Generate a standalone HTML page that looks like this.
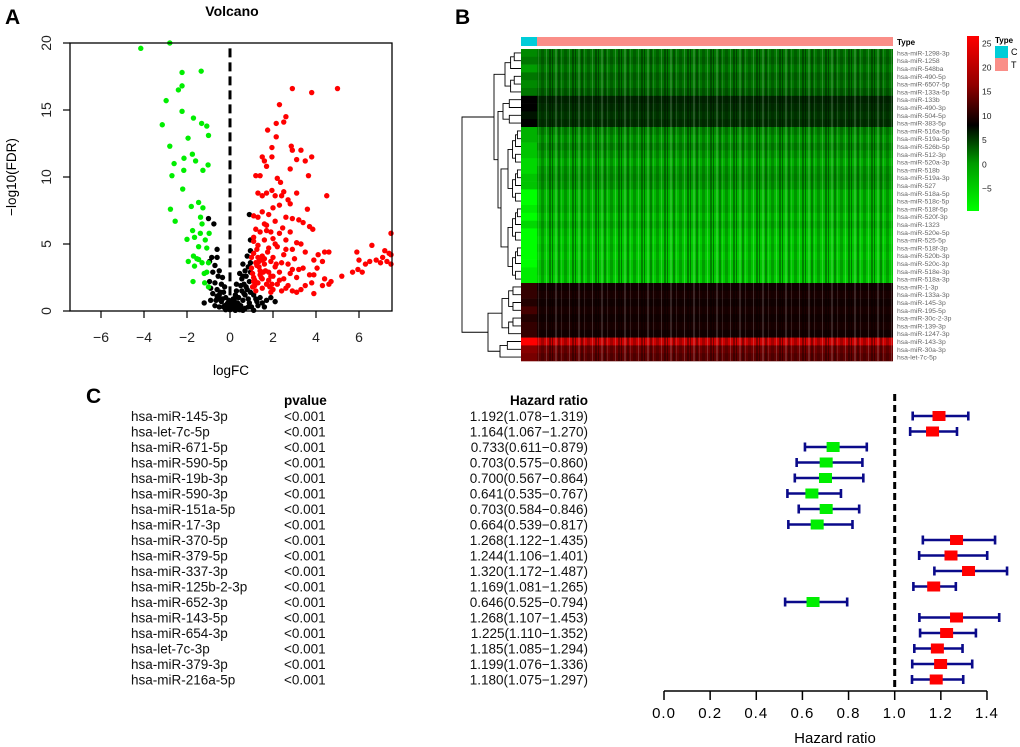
<!DOCTYPE html>
<html><head><meta charset="utf-8"><style>
html,body{margin:0;padding:0;background:#fff;}
svg{display:block;font-family:"Liberation Sans",Arial,sans-serif;}
</style></head><body>
<svg id="fig" width="1020" height="747" viewBox="0 0 1020 747">
<defs>
<pattern id="stripes" width="23" height="8" patternUnits="userSpaceOnUse">
<rect x="0" y="0" width="1" height="8" fill="#000" opacity="0.4"/>
<rect x="3" y="0" width="2" height="8" fill="#fff" opacity="0.15"/>
<rect x="6" y="0" width="2" height="8" fill="#000" opacity="0.3"/>
<rect x="9" y="0" width="1" height="8" fill="#fff" opacity="0.12"/>
<rect x="12" y="0" width="3" height="8" fill="#000" opacity="0.2"/>
<rect x="17" y="0" width="1" height="8" fill="#fff" opacity="0.18"/>
<rect x="20" y="0" width="2" height="8" fill="#000" opacity="0.35"/>
</pattern>
</defs>
<text x="5" y="24" font-size="21" font-weight="bold">A</text>
<text x="455" y="24" font-size="21" font-weight="bold">B</text>
<text x="86" y="403" font-size="21" font-weight="bold">C</text>
<g id="volcano"></g>
<g id="heat"></g>
<g id="forest"></g>
</svg>
<script>
// ---------- Volcano data ----------
const greenFC=[-4.15,-2.8,-1.34,-2.23,-2.23,-2.4,-2.97,-2.23,-3.15,-1.7,-1.32,-1.08,-1.0,-1.95,-2.8,-2.14,-1.75,-1.6,-2.6,-1.02,-2.15,-1.26,-2.7,-2.2,-2.77,-1.46,-1.8,-1.26,-2.55,-1.37,-1.3,-1.74,-2.0,-1.65,-1.38,-1.15,-1.46,-1.08,-1.7,-1.94,-1.54,-1.3,-1.0,-1.65,-1.2,-1.72,-1.18,-1.0,-1.46,-0.97,-1.08];
const greenFDR=[19.6,20,17.9,17.8,16.8,16.5,15.7,14.9,13.9,14.4,14.0,13.8,13.1,12.9,12.3,11.4,11.7,11.2,11.0,10.9,10.5,10.5,10.1,9.1,7.6,8.1,7.8,7.7,6.7,7.0,6.5,6.0,5.35,5.5,5.8,5.3,4.8,4.7,4.1,3.7,3.9,3.6,3.6,3.35,2.8,2.2,2.1,1.8,3.85,5.8,2.9];
const redFC=[2.9,3.8,5.0,2.3,2.6,2.5,2.15,1.75,2.15,2.85,2.9,3.3,1.95,3.8,1.5,1.95,1.6,3.1,3.5,1.7,2.8,1.2,1.4,3.65,2.2,2.35,1.95,2.5,2.4,3.1,4.5,1.3,1.7,1.5,2.1,2.7,2.3,2.0,2.8,3.6,1.1,1.5,1.3,1.8,2.6,2.9,3.2,1.6,2.1,3.4,3.7,3.85,1.2,1.4,1.9,2.3,2.8,1.1,1.6,2.0,2.6,3.1,3.3,1.3,1.8,2.2,2.9,3.5,4.4,4.6,4.1,5.9,6.6,7.2,7.5,7.4,1.1,1.5,2.0,2.5,3.0,3.9,4.3,6.0,6.3,6.5,6.8,7.0,7.1,7.3,7.5,7.5,1.2,1.6,2.1,2.7,3.2,3.4,4.05,1.0,1.4,1.8,2.3,2.8,3.7,3.9,5.2,5.7,5.95,6.15,1.1,1.5,2.0,2.5,3.1,4.4,4.7,1.3,1.7,2.2,2.7,3.8,4.6,1.05,1.5,2.0,2.6,2.9,3.3,3.9,4.3,1.2,1.9,3.1,2.4,1.4,1.6,1.9,2.4,1.25,1.7,2.45,2.1,1.35,1.1,1.8,2.3,1.0,1.15,2.9,3.5,2.6,1.05,1.25,1.45,1.65,1.85,1.15,1.35,1.55,1.75,1.95,2.15,1.1,1.3,1.5,1.7,1.9];
const redFDR=[16.6,16.3,16.6,15.4,14.5,14.1,14.0,13.5,13.0,12.3,12.0,12.0,12.2,11.5,11.5,11.5,11.2,11.3,11.2,10.8,10.6,10.1,10.1,10.1,9.9,9.6,9.0,8.9,8.6,8.8,8.6,8.8,8.8,8.6,8.6,8.3,7.9,7.7,8.0,7.6,7.1,7.4,7.0,7.2,7.0,6.9,6.8,6.5,6.7,6.6,6.3,6.1,6.1,5.9,5.9,5.8,5.9,5.5,5.3,5.4,5.3,5.1,5.0,4.9,4.7,4.8,4.6,4.4,4.4,4.4,4.2,4.4,4.9,4.5,5.8,4.3,4.3,4.1,4.0,4.2,3.9,3.8,3.7,3.8,3.5,3.7,3.8,3.6,4.0,3.7,3.5,4.2,3.6,3.5,3.3,3.5,3.1,3.2,3.2,3.2,3.0,2.9,2.9,2.8,2.7,2.7,2.6,2.9,3.1,2.9,2.5,2.4,2.6,2.4,2.5,2.4,2.2,2.1,2.0,2.0,1.9,2.1,2.0,1.8,1.7,1.6,1.7,1.5,1.6,1.3,1.9,1.5,1.4,1.4,1.5,2.7,3.9,3.7,3.6,4.6,6.0,6.2,5.0,3.3,2.2,2.3,2.3,4.0,1.9,3.1,1.9,4.6,2.8,3.4,2.5,3.0,1.8,2.3,3.7,2.9,4.4,2.0,3.5,5.2,4.0,3.8,6.4,2.6,4.5];
const blackFC=[-1.0,-0.75,-0.6,-0.85,-0.6,-0.95,-0.7,-0.5,-0.8,-0.55,-0.95,-0.7,-0.4,-0.9,-0.6,-0.3,-0.8,-0.5,-0.2,-0.65,-0.4,-0.15,-0.9,-0.3,-0.1,0,0.1,0.2,0.3,0.05,-0.05,0.15,0.35,0.5,0.6,0.4,0.7,0.55,0.8,0.65,0.9,0.75,0.95,0.85,0.7,0.95,0.8,0.95,0.95,0.9,0.6,0.5,0.45,0.7,1.0,1.3,1.5,1.7,2.1,1.9,1.2,1.6,0.9,-1.2,-0.5,0.25,0.3,0.45,0.6,-0.35,-0.25,1.1,1.4,0.85,-0.2,0.6,1.1,-0.45,-0.35,0.2,0.35,0.75,0.55,-0.7,-0.55,-0.25,0.1,0.25,0.5,0.85,-0.6,0.4,0.15,-0.1,0.3,0.65,0.95,1.25];
const blackFDR=[6.9,6.5,4.6,4.0,4.0,3.7,3.4,3.0,2.9,2.6,2.2,2.1,2.0,1.7,1.6,1.4,1.3,1.2,1.0,0.8,0.7,0.5,0.8,0.3,0.2,0.1,0.3,0.4,0.6,0.5,0.8,0.15,0.2,0.4,0.8,1.0,1.2,1.5,1.6,2.0,2.2,2.6,2.9,3.3,3.0,3.6,4.1,4.5,5.3,7.2,2.6,1.9,0.1,0.2,0.3,0.4,0.6,0.8,0.7,1.0,0.9,0.3,0.6,0.6,0.3,1.2,2.0,2.8,3.5,2.5,1.8,1.2,1.0,0.9,0.1,0.05,0.05,1.4,0.9,0.9,0.6,1.8,2.4,0.4,0.9,0.4,0.7,0.05,0.15,0.3,1.1,0.5,0.9,0.6,1.5,1.3,1.4,0.7];
const volXTicks=[-6,-4,-2,0,2,4,6];
const volYTicks=[0,5,10,15,20];

// ---------- Heatmap data ----------
const miRNAs=["hsa-miR-1298-3p","hsa-miR-1258","hsa-miR-548ba","hsa-miR-490-5p","hsa-miR-6507-5p","hsa-miR-133a-5p","hsa-miR-133b","hsa-miR-490-3p","hsa-miR-504-5p","hsa-miR-383-5p","hsa-miR-516a-5p","hsa-miR-519a-5p","hsa-miR-526b-5p","hsa-miR-512-3p","hsa-miR-520a-3p","hsa-miR-518b","hsa-miR-519a-3p","hsa-miR-527","hsa-miR-518a-5p","hsa-miR-518c-5p","hsa-miR-518f-5p","hsa-miR-520f-3p","hsa-miR-1323","hsa-miR-520e-5p","hsa-miR-525-5p","hsa-miR-518f-3p","hsa-miR-520b-3p","hsa-miR-520c-3p","hsa-miR-518e-3p","hsa-miR-518a-3p","hsa-miR-1-3p","hsa-miR-133a-3p","hsa-miR-145-3p","hsa-miR-195-5p","hsa-miR-30c-2-3p","hsa-miR-139-3p","hsa-miR-1247-3p","hsa-miR-143-3p","hsa-miR-30a-3p","hsa-let-7c-5p"];
const tumorExpr=[2,2.5,1.5,2.5,2,3,6,5.5,5,5.5,1,0,1,0,-1,0,0.5,0,-1.5,-1.5,-1,-2,-1,-2,-2.5,-2,-2.5,-2,-2,-2.5,9,9.5,9,9.5,9,9.5,9,20,14.5,13.5];
const controlExpr=[1,2,0,2,1,2,8,8,7,8,-1,-1,-2,-2,-3,-3,-2,-2,-5,-5,-4,-5,-3,-6,-6,-6,-5,-5,-4,-4,11,11,10,12,10,11,11,24,16,15];
const colorTicks=[-5,0,5,10,15,20,25];

// ---------- Forest data ----------
const fNames=["hsa-miR-145-3p","hsa-let-7c-5p","hsa-miR-671-5p","hsa-miR-590-5p","hsa-miR-19b-3p","hsa-miR-590-3p","hsa-miR-151a-5p","hsa-miR-17-3p","hsa-miR-370-5p","hsa-miR-379-5p","hsa-miR-337-3p","hsa-miR-125b-2-3p","hsa-miR-652-3p","hsa-miR-143-5p","hsa-miR-654-3p","hsa-let-7c-3p","hsa-miR-379-3p","hsa-miR-216a-5p"];
const fHR=[1.192,1.164,0.733,0.703,0.700,0.641,0.703,0.664,1.268,1.244,1.320,1.169,0.646,1.268,1.225,1.185,1.199,1.180];
const fLow=[1.078,1.067,0.611,0.575,0.567,0.535,0.584,0.539,1.122,1.106,1.172,1.081,0.525,1.107,1.110,1.085,1.076,1.075];
const fHigh=[1.319,1.270,0.879,0.860,0.864,0.767,0.846,0.817,1.435,1.401,1.487,1.265,0.794,1.453,1.352,1.294,1.336,1.297];
const fP=["<0.001","<0.001","<0.001","<0.001","<0.001","<0.001","<0.001","<0.001","<0.001","<0.001","<0.001","<0.001","<0.001","<0.001","<0.001","<0.001","<0.001","<0.001"];
const fTicks=[0,0.2,0.4,0.6,0.8,1.0,1.2,1.4];

const NS="http://www.w3.org/2000/svg";
function mk(tag,attrs,parent,txt){const e=document.createElementNS(NS,tag);for(const k in attrs)e.setAttribute(k,attrs[k]);if(txt!==undefined)e.textContent=txt;parent.appendChild(e);return e;}

// ===== Volcano =====
(function(){
const g=document.getElementById('volcano');
const L=70,R=392,T=43,B=311;
const xs=v=>230+v*21.5, ys=v=>B-v*(B-T)/20;
let e=mk('text',{x:232,y:16,'font-size':14,'font-weight':'bold','text-anchor':'middle'},g,'Volcano');


function pts(fx,fy,col,name){for(let i=0;i<fx.length;i++){const c=mk('circle',{cx:Math.min(xs(fx[i]),R-1),cy:ys(fy[i]),r:2.7,fill:col},g);

}}
pts(blackFC,blackFDR,'#000','point-not-significant');
pts(greenFC,greenFDR,'#00ee00','point-down');
pts(redFC,redFDR,'#ff0000','point-up');
e=mk('line',{x1:xs(0),x2:xs(0),y1:ys(19.6),y2:B,stroke:'#000','stroke-width':3,'stroke-dasharray':'9,5'},g);


e=mk('rect',{x:L,y:T,width:R-L,height:B-T,fill:'none',stroke:'#000','stroke-width':1.3},g);


volXTicks.forEach(t=>{mk('line',{x1:xs(t),x2:xs(t),y1:B,y2:B+7,stroke:'#000','stroke-width':1.2},g);
const l=mk('text',{x:xs(t),y:342,'font-size':14,'text-anchor':'middle',fill:'#222'},g,t<0?'\u2212'+(-t):String(t));

});
volYTicks.forEach(t=>{mk('line',{x1:L,x2:L-7,y1:ys(t),y2:ys(t),stroke:'#000','stroke-width':1.2},g);
const l=mk('text',{x:0,y:0,'font-size':14,'text-anchor':'middle',fill:'#222',transform:`translate(51,${ys(t)}) rotate(-90)`},g,String(t));

});
e=mk('text',{x:231,y:375,'font-size':13.5,'text-anchor':'middle'},g,'logFC');


e=mk('text',{x:0,y:0,'font-size':13.5,'text-anchor':'middle',transform:'translate(16,177) rotate(-90)'},g,'\u2212log10(FDR)');


})();

// ===== Heatmap =====
(function(){
const g=document.getElementById('heat');
const L=521,R=893,T=49,B=361,CX=537;
const n=miRNAs.length,rh=(B-T)/n;
function col(v){if(v<8){const a=Math.min(1,(8-v)/13);return `rgb(0,${Math.round(a*255)},0)`;}const a=Math.min(1,(v-8)/15);return `rgb(${Math.round(a*255)},0,0)`;}
let e=mk('rect',{x:L,y:37,width:CX-L,height:9,fill:'#00cdd8'},g);


e=mk('rect',{x:CX,y:37,width:R-CX,height:9,fill:'#fa8e88'},g);


mk('text',{x:897,y:45,'font-size':8,'font-weight':'bold'},g,'Type');
for(let i=0;i<n;i++){const y=T+i*rh;
let c=mk('rect',{x:L,y:y,width:CX-L,height:rh+0.3,fill:col(controlExpr[i])},g);


c=mk('rect',{x:CX,y:y,width:R-CX,height:rh+0.3,fill:col(tumorExpr[i])},g);


const l=mk('text',{x:897,y:y+rh/2+2.5,'font-size':6.8,fill:'#666'},g,miRNAs[i]);

}
mk('rect',{x:CX,y:T,width:R-CX,height:B-T,fill:'url(#stripes)'},g);
const yc=i=>T+(i+0.5)*rh;
function tree(a,b,x0,x1){
 if(a===b)return [yc(a),L];
 const m=Math.floor((a+b)/2);
 const xl=x0+(x1-x0)*0.35;
 const l=tree(a,m,xl,x1), r=tree(m+1,b,xl,x1);
 mk('path',{d:`M${l[1]},${l[0]}H${x0}V${r[0]}H${r[1]}`,fill:'none',stroke:'#000','stroke-width':0.9},g);
 return [(l[0]+r[0])/2,x0];}
function join(A,Bn,x){mk('path',{d:`M${A[1]},${A[0]}H${x}V${Bn[0]}H${Bn[1]}`,fill:'none',stroke:'#000','stroke-width':0.9},g);return [(A[0]+Bn[0])/2,x];}
const c1=tree(0,5,505,521),c2=tree(6,9,503,521),c3=tree(10,29,501,521);
const t23=join(c2,c3,498),top=join(c1,t23,494);
const d1=tree(30,36,502,521),d2=tree(37,39,500,521);
const bot=join(d1,d2,488);
join(top,bot,462);
const ky=v=>211-(v+9.6)*(175/36.1);
const grad=mk('linearGradient',{id:'kg',x1:0,y1:1,x2:0,y2:0},document.querySelector('defs'));
[[-9.6,0],[0,0.27],[8,0.49],[16.5,0.72],[26.5,1]].forEach(s=>mk('stop',{offset:s[1],'stop-color':col(s[0])},grad));
e=mk('rect',{x:967,y:36,width:12,height:175,fill:'url(#kg)'},g);


colorTicks.forEach(t=>{const l=mk('text',{x:982,y:ky(t)+3,'font-size':8.5,fill:'#222'},g,t<0?'\u2212'+(-t):String(t));

});
mk('text',{x:995,y:43,'font-size':8,'font-weight':'bold'},g,'Type');
e=mk('rect',{x:995,y:46,width:13,height:12,fill:'#00cdd8'},g);


mk('text',{x:1011,y:55,'font-size':9},g,'C');
e=mk('rect',{x:995,y:58,width:13,height:13,fill:'#fa8e88'},g);


mk('text',{x:1011,y:68,'font-size':9},g,'T');
})();

// ===== Forest =====
(function(){
const g=document.getElementById('forest');
const xs=v=>664+v*230.7, yr=i=>416+i*15.5;
let e=mk('text',{x:284,y:405,'font-size':13.5,'font-weight':'bold'},g,'pvalue');


e=mk('text',{x:588,y:405,'font-size':13.5,'font-weight':'bold','text-anchor':'end'},g,'Hazard ratio');


e=mk('line',{x1:xs(1),x2:xs(1),y1:394,y2:691,stroke:'#000','stroke-width':3,'stroke-dasharray':'7,4'},g);


for(let i=0;i<fNames.length;i++){const y=yr(i);
let t=mk('text',{x:131,y:y+5,'font-size':13.5,fill:'#111'},g,fNames[i]);


t=mk('text',{x:284,y:y+5,'font-size':13.5,fill:'#111'},g,fP[i]);


t=mk('text',{x:588,y:y+5,'font-size':13.5,'text-anchor':'end',fill:'#111'},g,`${fHR[i].toFixed(3)}(${fLow[i].toFixed(3)}\u2212${fHigh[i].toFixed(3)})`);


const w=mk('path',{d:`M${xs(fLow[i])},${y-4.5}V${y+4.5}M${xs(fLow[i])},${y}H${xs(fHigh[i])}M${xs(fHigh[i])},${y-4.5}V${y+4.5}`,stroke:'#0a0a8a','stroke-width':2.6,fill:'none'},g);


const b=mk('rect',{x:xs(fHR[i])-6.5,y:y-5,width:13,height:10,fill:fHR[i]>1?'#ff0000':'#00ee00'},g);

}
e=mk('line',{x1:xs(0),x2:xs(1.4),y1:691,y2:691,stroke:'#000','stroke-width':1.5},g);


fTicks.forEach(t=>{mk('line',{x1:xs(t),x2:xs(t),y1:691,y2:700,stroke:'#000','stroke-width':1.5},g);
const l=mk('text',{x:xs(t),y:718,'font-size':15,'text-anchor':'middle','letter-spacing':'1'},g,t.toFixed(1));

});
e=mk('text',{x:835,y:743,'font-size':15,'text-anchor':'middle'},g,'Hazard ratio');


})();
</script>
</body></html>
